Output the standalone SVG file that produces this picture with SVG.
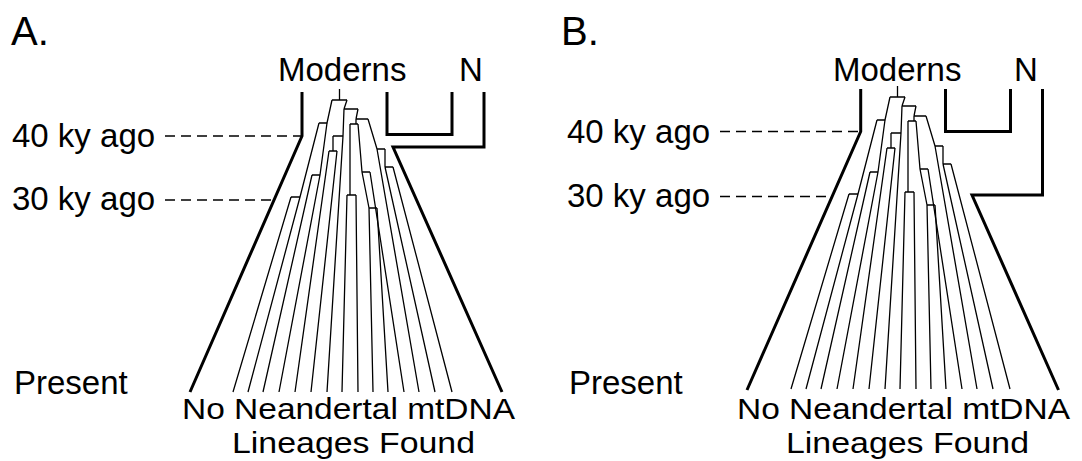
<svg xmlns="http://www.w3.org/2000/svg" xmlns:xlink="http://www.w3.org/1999/xlink" width="1082" height="461" viewBox="0 0 1082 461">
<style>
text{font-family:"Liberation Sans",Arial,sans-serif;fill:#000}
.lbl{font-size:33px}
.foot{font-size:30px}
.big{font-size:40px}
.bold{fill:none;stroke:#000;stroke-width:3;stroke-linejoin:miter}
.thin{fill:none;stroke:#000;stroke-width:1.3}
.dash{fill:none;stroke:#000;stroke-width:1.6;stroke-dasharray:10 6}
</style>
<defs>
<g id="tree" class="thin">
<path d="M339.5,89V100M332,100H347"/>
<path d="M332,100L327,123M319,123H327"/>
<path d="M347,100L344,109M344,109H358"/>
<path d="M319,123L300,197M291,197H300M291,197L233,392M300,197L248,392"/>
<path d="M327,123L320,175M312,175H320M312,175L263,392M320,175L279,392"/>
<path d="M344,109L343,136M333,136H343M343,136L327,392"/>
<path d="M333,136L333,151M329,151H337M329,151L295,392M337,151L311,392"/>
<path d="M358,109L356,119M356,119H368"/>
<path d="M356,119L356,124M350,124H358"/>
<path d="M350,124L350,195M347,195H356M347,195L342,392M356,195L358,392"/>
<path d="M358,124L362,172M362,172H370M370,172L404,392"/>
<path d="M362,172L369,208M369,208H377M369,208L373,392M377,208L388,392"/>
<path d="M368,119L377,149M377,149H385M377,149L419,392"/>
<path d="M385,149L385,167M385,167H393M385,167L435,392M393,167L452,392"/>
</g>
</defs>
<g id="panelA">
<text class="big" x="11" y="45">A.</text>
<g id="labelsA" class="lbl">
<text x="278" y="81">Moderns</text>
<text x="459" y="81">N</text>
<text x="12" y="147">40 ky ago</text>
<text x="12" y="210">30 ky ago</text>
<text x="14" y="394">Present</text>
<text class="foot" x="182" y="419" textLength="333" lengthAdjust="spacingAndGlyphs">No Neandertal mtDNA</text>
<text class="foot" x="232" y="453" textLength="243" lengthAdjust="spacingAndGlyphs">Lineages Found</text>
</g>
<g id="connectorsA">
<path class="dash" d="M165,136H302"/>
<path class="dash" d="M165,200H274"/>
<path class="bold" d="M302,92V136L190,392"/>
<path class="bold" d="M387,92V134.5H452V92"/>
<path class="bold" d="M484,92V147H393L502,392"/>
<use xlink:href="#tree" href="#tree"/>
</g>
</g>
<g id="panelB">
<text class="big" x="561" y="45">B.</text>
<g id="labelsB" class="lbl">
<text x="833" y="81">Moderns</text>
<text x="1014" y="81">N</text>
<text x="567" y="143">40 ky ago</text>
<text x="567" y="207">30 ky ago</text>
<text x="569" y="394">Present</text>
<text class="foot" x="737" y="419" textLength="333" lengthAdjust="spacingAndGlyphs">No Neandertal mtDNA</text>
<text class="foot" x="786" y="453" textLength="243" lengthAdjust="spacingAndGlyphs">Lineages Found</text>
</g>
<g id="connectorsB">
<path class="dash" d="M720,131.5H860.7"/>
<path class="dash" d="M720,196.5H832"/>
<path class="bold" d="M860.7,89V131.5L747,390"/>
<path class="bold" d="M945.5,89V131.5H1010.5V89"/>
<path class="bold" d="M1042.5,89V195H972L1058.5,390"/>
<use xlink:href="#tree" href="#tree" transform="translate(558,-3)"/>
</g>
</g>
</svg>
